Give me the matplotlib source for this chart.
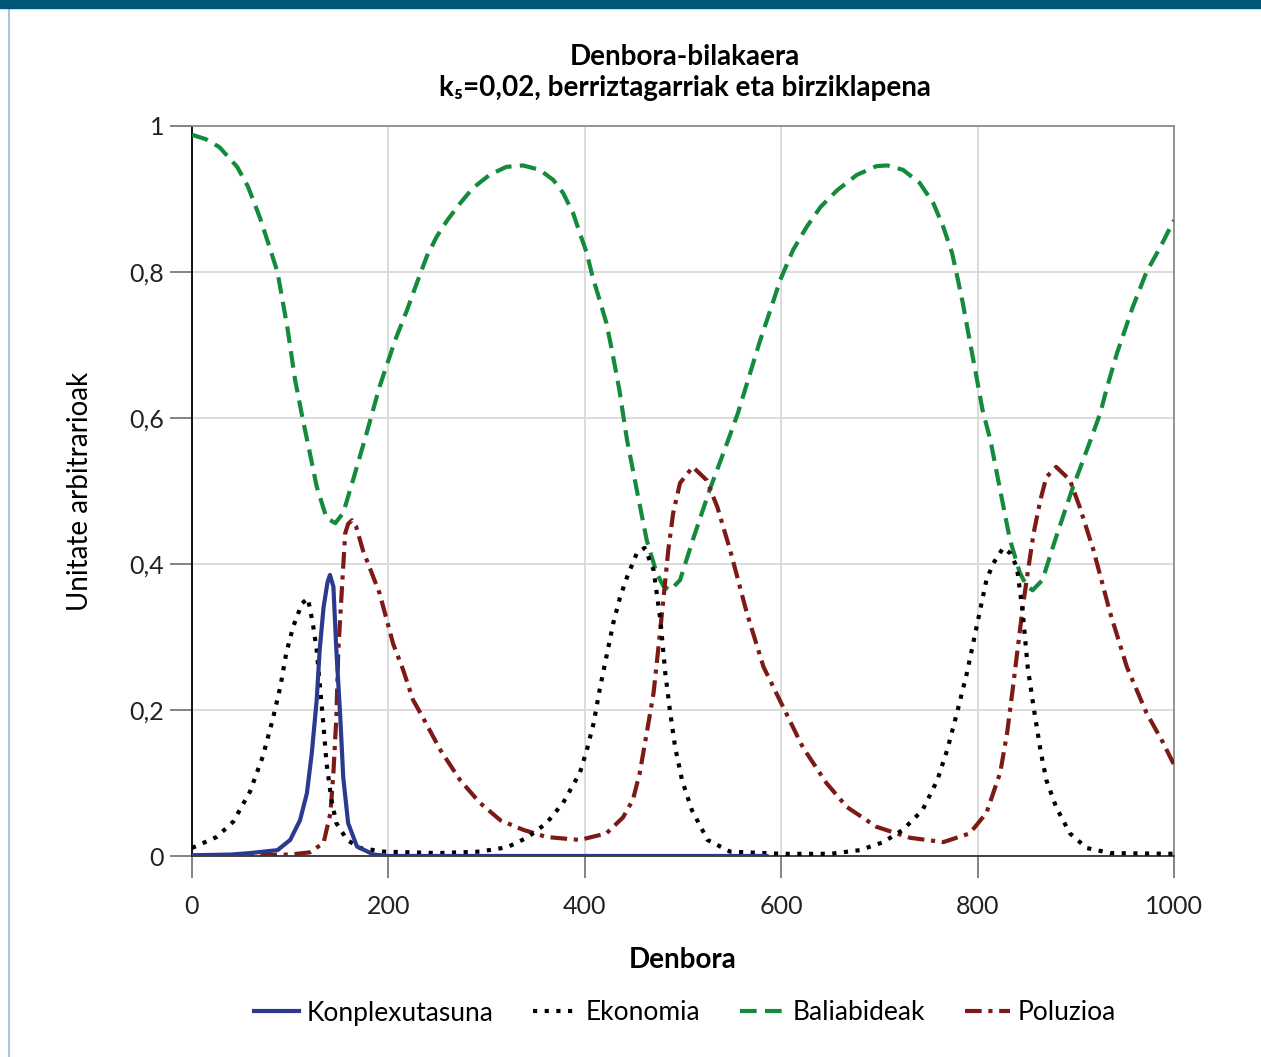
import matplotlib
matplotlib.use("Agg")
import matplotlib.pyplot as plt
from matplotlib.lines import Line2D
from matplotlib.patches import Rectangle
from matplotlib.ticker import MultipleLocator, FuncFormatter

plt.rcParams['font.family'] = ['Lato', 'DejaVu Sans']

# Konplexutasuna
konp_x = [0, 40, 59, 87, 100, 110, 117, 122, 127, 130, 134, 138, 140.5, 144, 147, 151, 154, 159, 168, 185, 200, 585]
konp_y = [0.001, 0.002, 0.004, 0.008, 0.022, 0.049, 0.086, 0.141, 0.214, 0.282, 0.341, 0.375, 0.385, 0.369,
          0.282, 0.19, 0.108, 0.045, 0.013, 0.002, 0.0, 0.0]

# Ekonomia
ekon_x = [0, 25, 42, 59, 72, 82, 90, 96, 103, 112, 118, 123, 127, 130, 134, 137, 142, 147, 158, 171, 195, 250,
          293, 321, 341, 361, 378, 395, 402, 409, 415, 422, 429, 436, 443, 453, 461, 470, 477, 482, 487, 492,
          499, 509, 525, 548, 600, 650, 680, 704, 724, 744, 759, 769, 779, 789, 799, 809, 816, 826, 833, 840,
          846, 851, 857, 864, 870, 880, 894, 911, 935, 1000]
ekon_y = [0.011, 0.026, 0.047, 0.088, 0.136, 0.186, 0.232, 0.278, 0.314, 0.346, 0.353, 0.319, 0.282, 0.237,
          0.177, 0.127, 0.077, 0.045, 0.022, 0.011, 0.006, 0.004, 0.006, 0.012, 0.025, 0.045, 0.073, 0.114,
          0.145, 0.182, 0.227, 0.273, 0.319, 0.355, 0.382, 0.415, 0.422, 0.392, 0.323, 0.25, 0.196, 0.149,
          0.104, 0.063, 0.022, 0.006, 0.003, 0.003, 0.008, 0.019, 0.036, 0.063, 0.104, 0.145, 0.196, 0.25,
          0.314, 0.378, 0.401, 0.422, 0.415, 0.396, 0.333, 0.259, 0.204, 0.145, 0.104, 0.067, 0.031, 0.011,
          0.004, 0.003]

# Baliabideak
bali_x = [0, 14, 28, 46, 57, 69, 79, 87, 97, 105, 113, 120, 127, 137, 146, 154, 164, 178, 191, 207, 219, 229,
          239, 249, 260, 273, 286, 303, 320, 337, 354, 368, 378, 388, 395, 402, 408, 415, 422, 427, 435, 443,
          453, 463, 473, 480, 487, 497, 510, 527, 545, 556, 578, 589, 599, 612, 626, 640, 657, 677, 697, 708,
          724, 741, 755, 765, 774, 780, 785, 790, 795, 800, 805, 813, 823, 833, 843, 850, 856, 866, 879, 896,
          914, 925, 932, 942, 958, 972, 986, 1000]
bali_y = [0.988, 0.982, 0.971, 0.944, 0.917, 0.875, 0.834, 0.80, 0.725, 0.652, 0.597, 0.552, 0.506, 0.463,
          0.456, 0.47, 0.515, 0.58, 0.643, 0.707, 0.748, 0.785, 0.821, 0.848, 0.871, 0.894, 0.915, 0.933,
          0.944, 0.946, 0.940, 0.926, 0.908, 0.881, 0.853, 0.826, 0.793, 0.762, 0.730, 0.697, 0.64, 0.57,
          0.501, 0.433, 0.388, 0.37, 0.364, 0.378, 0.433, 0.501, 0.566, 0.607, 0.704, 0.748, 0.789, 0.830,
          0.862, 0.889, 0.912, 0.933, 0.945, 0.946, 0.940, 0.922, 0.894, 0.862, 0.826, 0.789, 0.757, 0.720,
          0.684, 0.648, 0.611, 0.57, 0.501, 0.433, 0.388, 0.37, 0.364, 0.378, 0.433, 0.501, 0.566, 0.607,
          0.643, 0.689, 0.752, 0.80, 0.834, 0.871]

# Poluzioa
polu_x = [0, 60, 100, 120, 134, 141, 144, 147, 149, 153, 156, 159, 163, 167, 174, 191, 205, 215, 225, 235, 253,
          273, 293, 314, 337, 361, 395, 422, 439, 449, 456, 463, 470, 475, 480, 485, 490, 497, 510, 524, 535,
          548, 565, 582, 602, 622, 646, 667, 697, 731, 765, 792, 809, 823, 830, 836, 841, 846, 851, 857, 864,
          870, 880, 894, 904, 918, 935, 952, 972, 989, 1000]
polu_y = [0.0, 0.001, 0.002, 0.005, 0.018, 0.059, 0.114, 0.19, 0.282, 0.374, 0.442, 0.455, 0.46, 0.452, 0.419,
          0.36, 0.29, 0.255, 0.214, 0.19, 0.145, 0.104, 0.073, 0.049, 0.036, 0.026, 0.022, 0.031, 0.053,
          0.077, 0.114, 0.168, 0.223, 0.286, 0.351, 0.419, 0.47, 0.511, 0.533, 0.515, 0.478, 0.419, 0.333,
          0.259, 0.204, 0.149, 0.1, 0.067, 0.04, 0.025, 0.019, 0.031, 0.059, 0.114, 0.168, 0.231, 0.286,
          0.341, 0.388, 0.442, 0.488, 0.519, 0.533, 0.515, 0.478, 0.419, 0.333, 0.259, 0.196, 0.155, 0.125]

series_labels = ['Konplexutasuna', 'Ekonomia', 'Baliabideak', 'Poluzioa']
colors = {'Konplexutasuna': '#2b3a8f', 'Ekonomia': '#000000',
          'Baliabideak': '#138a3c', 'Poluzioa': '#7c1a15'}

fig = plt.figure(figsize=(12.61, 10.57), dpi=100)
ax = fig.add_axes([192 / 1261, 201 / 1057, 982 / 1261, 730 / 1057])

lw = 3.0
ax.plot(bali_x, bali_y, color=colors['Baliabideak'], lw=lw, linestyle=(0, (4, 2)), label='Baliabideak', zorder=3)
ax.plot(polu_x, polu_y, color=colors['Poluzioa'], lw=lw, linestyle=(0, (4, 1.6, 1, 1.6)), label='Poluzioa', zorder=4)
ax.plot(ekon_x, ekon_y, color=colors['Ekonomia'], lw=lw, linestyle=(0, (1, 1.8)), label='Ekonomia', zorder=5)
ax.plot(konp_x, konp_y, color=colors['Konplexutasuna'], lw=lw, linestyle='-', label='Konplexutasuna', zorder=6)


def comma_fmt(v, pos):
    v = round(v, 2)
    if v == int(v):
        return f'{int(v)}'
    return f'{v:.1f}'.replace('.', ',')


# axes
ax.set_xlim(0, 1000)
ax.set_ylim(0, 1)
ax.xaxis.set_major_locator(MultipleLocator(200))
ax.yaxis.set_major_locator(MultipleLocator(0.2))
ax.yaxis.set_major_formatter(FuncFormatter(comma_fmt))
ax.grid(True, color='#d9d9d9', lw=1.3, zorder=0)
ax.set_axisbelow(True)
ax.tick_params(axis='both', which='major', length=16, width=1.2, color='#6e6e6e',
               labelsize=18, labelcolor='#222222', direction='out')
ax.tick_params(axis='x', pad=12)
ax.tick_params(axis='y', pad=4)

ax.spines['left'].set_color('#000000')
ax.spines['bottom'].set_color('#333333')
ax.spines['top'].set_color('#8c8c8c')
ax.spines['right'].set_color('#8c8c8c')
for s in ax.spines.values():
    s.set_linewidth(1.3)

ax.set_xlabel('Denbora', fontsize=20, fontweight='bold', labelpad=21)
ax.set_ylabel('Unitate arbitrarioak', fontsize=20, labelpad=26)

# title
fig.text(0.543, 1 - 57 / 1057, 'Denbora-bilakaera', ha='center', va='center', fontsize=20, fontweight='bold')
fig.text(0.543, 1 - 88 / 1057, 'k₅=0,02, berriztagarriak eta birziklapena', ha='center', va='center',
         fontsize=20, fontweight='bold')

# legend
handles, labels = ax.get_legend_handles_labels()
order = [labels.index(l) for l in series_labels]
fig.legend([handles[i] for i in order], [labels[i] for i in order], loc='center',
           bbox_to_anchor=(0.543, 1 - 1013 / 1057), bbox_transform=fig.transFigure,
           ncol=4, frameon=False, fontsize=19, handlelength=1.7, handletextpad=0.3, columnspacing=1.5)

# page decorations
fig.patches.append(Rectangle((0, 1 - 8 / 1057), 1, 8 / 1057, transform=fig.transFigure,
                             color='#005677', zorder=10))
fig.lines.append(Line2D([8.5 / 1261, 8.5 / 1261], [0, 1 - 8 / 1057], transform=fig.transFigure,
                        color='#a9c6df', lw=1.5))

fig.savefig('out.png', dpi=100)
